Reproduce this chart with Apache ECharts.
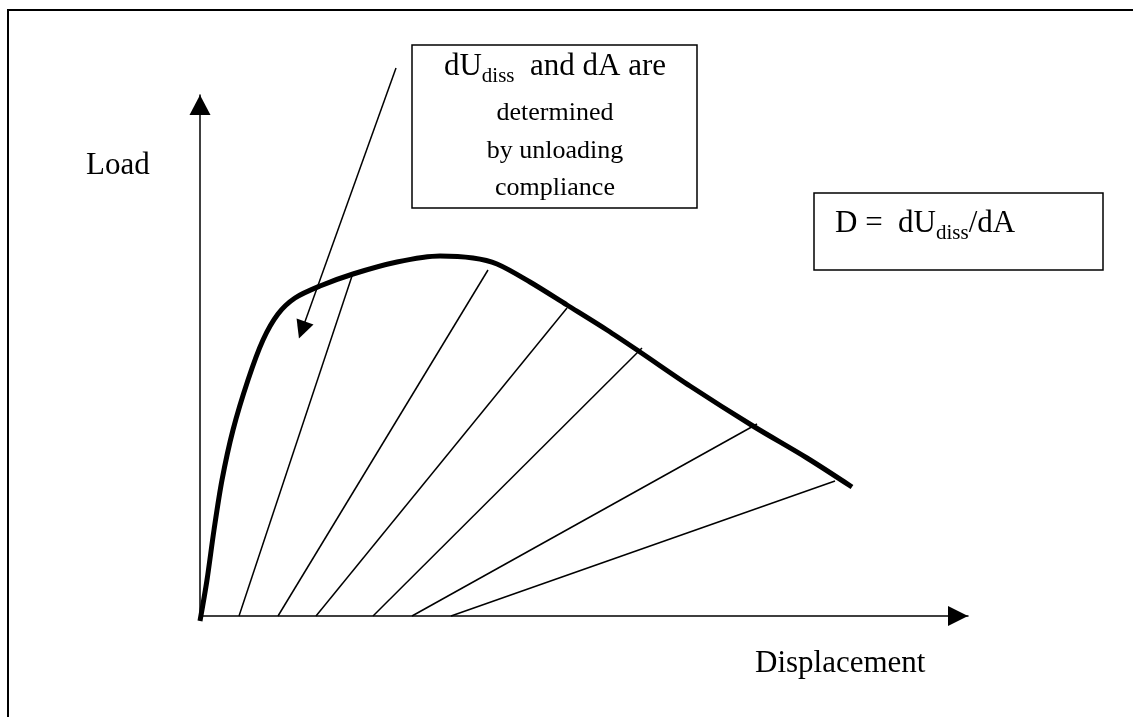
<!DOCTYPE html>
<html>
<head>
<meta charset="utf-8">
<script src="https://cdn.jsdelivr.net/npm/echarts@6/dist/echarts.min.js"></script>
<style>
  html, body { margin: 0; padding: 0; background: #fff; }
  #main { width: 1133px; height: 717px; }
</style>
</head>
<body>
<div id="main"></div>
<script>
// load-displacement curve (arbitrary units)
var curveX = [0, 7, 14, 22, 33, 48, 63, 78, 95, 120, 153, 197, 240, 273, 297, 330, 367, 407, 440, 490, 553, 607, 652];
var curveY = [-5, 36, 86, 136, 186, 236, 276, 302, 318, 330, 342, 354, 360, 358, 352, 334, 311, 286, 264, 230, 190, 158, 129];

// unloading lines: point on the curve -> point on the displacement axis
var unloadTopX = [153, 288, 367, 442, 557, 635];
var unloadTopY = [343, 346, 308, 268, 192, 135];
var unloadFootX = [39, 78, 116, 173, 212, 251];

// note arrow from the text box down to the curve
var noteFrom = [196, 548];
var noteTo = [102, 286];

var serif = 'Liberation Serif';
var chart = echarts.init(document.getElementById('main'));

var series = [{
  type: 'line',
  data: curveX.map(function(x, i) { return [x, curveY[i]]; }),
  showSymbol: false,
  smooth: 0.3,
  clip: false,
  lineStyle: { color: '#000', width: 5 }
}, {
  type: 'lines',
  coordinateSystem: 'cartesian2d',
  clip: false,
  symbol: ['none', 'triangle'],
  symbolSize: [21, 18],
  lineStyle: { color: '#000', width: 1.5, opacity: 1 },
  data: [{ coords: [noteFrom, noteTo] }]
}];
unloadTopX.forEach(function(x, i) {
  series.push({
    type: 'line',
    data: [[unloadFootX[i], 0], [x, unloadTopY[i]]],
    showSymbol: false,
    clip: false,
    lineStyle: { color: '#000', width: 1.5 }
  });
});

var option = {
  backgroundColor: '#fff',
  animation: false,
  grid: { left: 200, top: 95, right: 165, bottom: 101 },
  xAxis: {
    type: 'value', min: 0, max: 768,
    axisLine: {
      lineStyle: { color: '#000', width: 1.5 },
      symbol: ['none', 'triangle'], symbolSize: [20, 20], symbolOffset: [0, -10]
    },
    axisTick: { show: false }, axisLabel: { show: false }, splitLine: { show: false }
  },
  yAxis: {
    type: 'value', min: 0, max: 521,
    axisLine: {
      lineStyle: { color: '#000', width: 1.5 },
      symbol: ['none', 'triangle'], symbolSize: [21, 20], symbolOffset: [0, -10]
    },
    axisTick: { show: false }, axisLabel: { show: false }, splitLine: { show: false }
  },
  graphic: [
    // outer frame (only top and left edges are inside the picture)
    { type: 'rect', shape: { x: 8, y: 10, width: 1400, height: 1000 }, style: { fill: 'none', stroke: '#000', lineWidth: 2 }, z: 1 },
    // axis titles
    { type: 'text', x: 86, y: 165.5, style: { text: 'Load', font: '31px ' + serif, fill: '#000', verticalAlign: 'middle' } },
    { type: 'text', x: 755, y: 663.5, style: { text: 'Displacement', font: '31px ' + serif, fill: '#000', verticalAlign: 'middle' } },
    // note box
    { type: 'rect', shape: { x: 412, y: 45, width: 285, height: 163 }, style: { fill: '#fff', stroke: '#000', lineWidth: 1.5 } },
    { type: 'text', x: 555, y: 66.5, style: {
        text: '{m|dU}{s|diss}{m|  and dA are}', align: 'center', verticalAlign: 'middle', fill: '#000',
        rich: {
          m: { fontFamily: serif, fontSize: 31, lineHeight: 40 },
          s: { fontFamily: serif, fontSize: 21, lineHeight: 25, verticalAlign: 'bottom' }
        }
      } },
    { type: 'text', x: 555, y: 113, style: { text: 'determined', font: '26px ' + serif, fill: '#000', align: 'center', verticalAlign: 'middle' } },
    { type: 'text', x: 555, y: 151, style: { text: 'by unloading', font: '26px ' + serif, fill: '#000', align: 'center', verticalAlign: 'middle' } },
    { type: 'text', x: 555, y: 188, style: { text: 'compliance', font: '26px ' + serif, fill: '#000', align: 'center', verticalAlign: 'middle' } },
    // definition box
    { type: 'rect', shape: { x: 814, y: 193, width: 289, height: 77 }, style: { fill: '#fff', stroke: '#000', lineWidth: 1.5 } },
    { type: 'text', x: 835, y: 223.5, style: {
        text: '{m|D =  dU}{s|diss}{m|/dA}', verticalAlign: 'middle', fill: '#000',
        rich: {
          m: { fontFamily: serif, fontSize: 31, lineHeight: 40 },
          s: { fontFamily: serif, fontSize: 21, lineHeight: 25, verticalAlign: 'bottom' }
        }
      } }
  ],
  series: series
};
chart.setOption(option);
</script>
</body>
</html>
